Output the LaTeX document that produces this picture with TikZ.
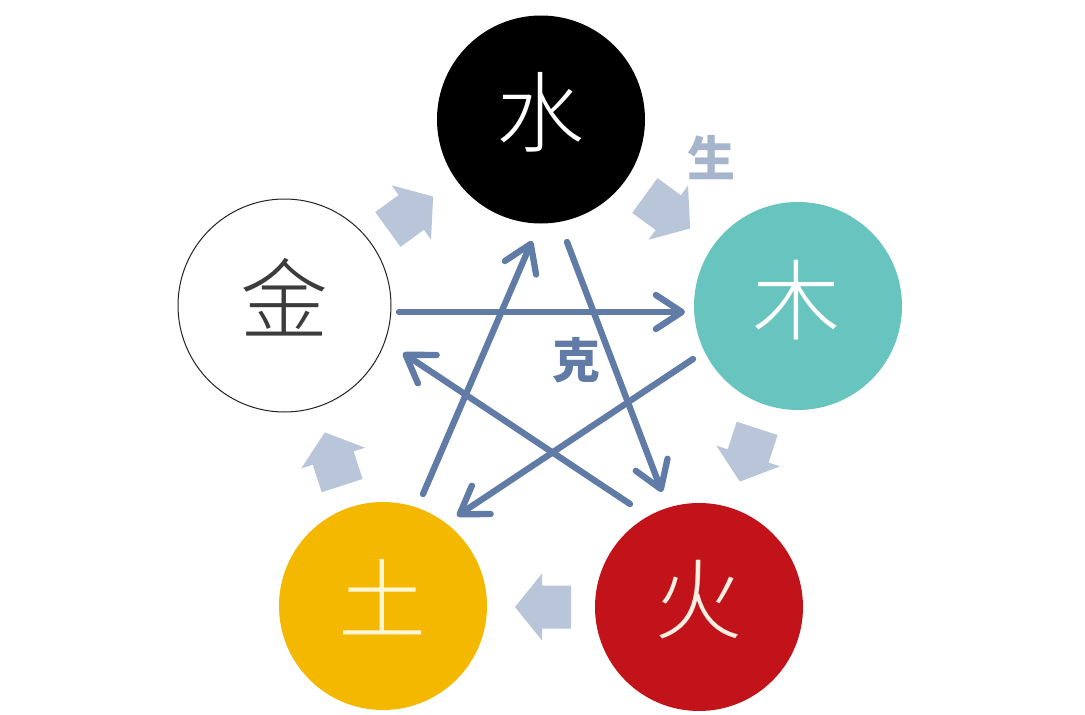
\documentclass[tikz,border=0pt]{standalone}
\usepackage{fontspec}
\newfontfamily\cjk{Noto Sans CJK SC}
\newfontfamily\cjkl{Noto Sans CJK SC}[UprightFont={* Light}]
\usetikzlibrary{arrows.meta}
\definecolor{shui}{HTML}{000000}
\definecolor{mu}{HTML}{68C4BE}
\definecolor{huo}{HTML}{C2131A}
\definecolor{tu}{HTML}{F5B800}
\definecolor{jinline}{HTML}{222222}
\definecolor{kecol}{HTML}{5F7BA6}
\definecolor{shengfill}{HTML}{B9C6DA}
\definecolor{shenglabel}{HTML}{A6B4CC}
\tikzset{
  element/.style={circle, minimum size=208pt, inner sep=0pt},
  glyph/.style={font=\cjkl\fontsize{88}{88}\selectfont, inner sep=0pt},
  kearrow/.style={draw=kecol, line width=6.3pt, line cap=round,
    -{Straight Barb[round, length=26pt, width=34pt]}},
  shengarr/.pic={\fill[shengfill] (-28,-21.5) -- (1,-21.5) -- (1,-33.5) -- (28,0)
    -- (1,33.5) -- (1,21.5) -- (-28,21.5) -- cycle;},
  biglabel/.style={font=\cjk\bfseries\fontsize{48}{48}\selectfont, inner sep=0pt}
}
\begin{document}
\begin{tikzpicture}[x=1pt,y=1pt]
\useasboundingbox (0,0) rectangle (1085,-715);
\fill[white] (0,0) rectangle (1085,-715);
% elements
\node[element, fill=shui] (shui) at (541,-119.5) {};
\node[element, fill=mu] (mu) at (798,-306) {};
\node[element, fill=huo] (huo) at (699,-607) {};
\node[element, fill=tu] (tu) at (383,-606) {};
\node[element, draw=jinline, line width=1pt, fill=white, minimum size=213pt] (jin) at (284.5,-305.5) {};
\node[glyph, text=white] (tshui) at (540,-112) {水};
\node[glyph, text=white] (tmu) at (796,-300) {木};
\node[glyph, text={rgb,255:red,248;green,238;blue,226}] (thuo) at (698,-600) {火};
\node[glyph, text={rgb,255:red,255;green,246;blue,214}] (ttu) at (382,-597) {土};
\node[glyph, text={rgb,255:red,60;green,60;blue,60}] (tjin) at (284,-297) {金};
% generating arrows
\pic[rotate=-36] at (667.5,-212) {shengarr};
\pic[rotate=-108] at (748.5,-455) {shengarr};
\pic[rotate=180] at (543,-607) {shengarr};
\pic[rotate=108] at (333.5,-459) {shengarr};
\pic[rotate=36] at (410.5,-213) {shengarr};
\node[biglabel, text=shenglabel] (sheng) at (711,-158) {生};
% overcoming arrows
\coordinate (s1) at (567,-242);
\coordinate (e1) at (662,-492);
\coordinate (s2) at (630,-504);
\coordinate (e2) at (403,-353);
\coordinate (s3) at (399,-312);
\coordinate (e3) at (685,-312);
\coordinate (s4) at (693,-359);
\coordinate (e4) at (457,-516);
\coordinate (s5) at (423,-494);
\coordinate (e5) at (532,-241);
\draw[kearrow] (s1) -- (e1);
\draw[kearrow] (s2) -- (e2);
\draw[kearrow] (s3) -- (e3);
\draw[kearrow] (s4) -- (e4);
\draw[kearrow] (s5) -- (e5);
\node[biglabel, text=kecol] (ke) at (576,-360) {克};
\end{tikzpicture}
\end{document}
